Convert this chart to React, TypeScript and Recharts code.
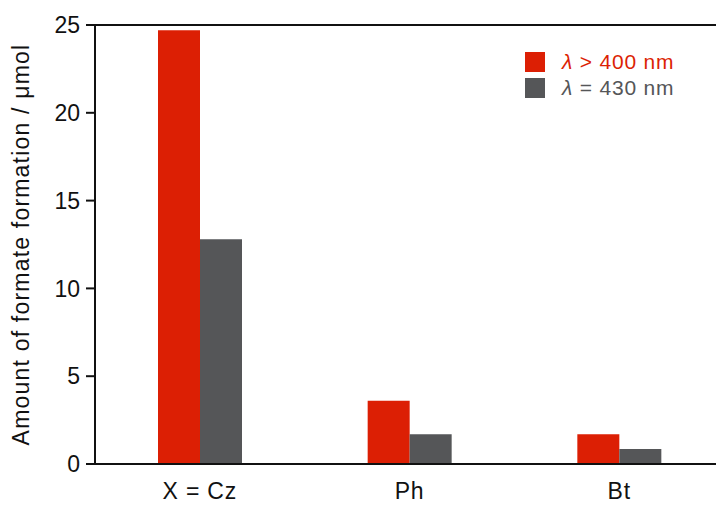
import React from 'react';
import { BarChart, Bar, XAxis, YAxis, ReferenceLine, Label } from 'recharts';

const categories = ['X = Cz', 'Ph', 'Bt'];
const visibleValues = [24.7, 3.6, 1.7];
const blueLedValues = [12.8, 1.7, 0.85];
const yTicks = [0, 5, 10, 15, 20, 25];

const RED = '#dc1f04';
const GREY = '#555658';
const FONT = '"Liberation Sans", Arial, Helvetica, sans-serif';

const data = categories.map((name, i) => ({
  name,
  vis: visibleValues[i],
  blue: blueLedValues[i],
}));

// legend drawn as an overlay so it doesn't eat plot space
const LegendBox: React.FC = () => (
  <div
    style={{
      position: 'absolute',
      left: 525,
      top: 49,
      fontFamily: FONT,
      fontSize: 21,
      letterSpacing: 0.8,
      lineHeight: '26px',
    }}
  >
    <div style={{ display: 'flex', alignItems: 'center', color: RED }}>
      <span style={{ width: 20, height: 20, background: RED, marginRight: 17 }} />
      <span>
        <i>λ</i> &gt; 400 nm
      </span>
    </div>
    <div style={{ display: 'flex', alignItems: 'center', color: GREY }}>
      <span style={{ width: 20, height: 20, background: GREY, marginRight: 17 }} />
      <span>
        <i>λ</i> = 430 nm
      </span>
    </div>
  </div>
);

const App: React.FC = () => {
  return (
    <div style={{ position: 'absolute', left: 0, top: 0, width: 716, height: 506, overflow: 'hidden', background: '#fff' }}>
      <BarChart
        width={740}
        height={506}
        data={data}
        margin={{ top: 25, right: 16, bottom: 0, left: 0 }}
        barGap={0}
        barSize={42}
        style={{ fontFamily: FONT }}
      >
        <ReferenceLine y={25} stroke="#111" strokeWidth={2} ifOverflow="extendDomain" />
        <XAxis
          dataKey="name"
          height={42}
          tickLine={false}
          tickSize={0}
          tickMargin={19}
          axisLine={{ stroke: '#111', strokeWidth: 2 }}
          tick={{ fill: '#111', fontSize: 23, letterSpacing: 0.8 }}
        />
        <YAxis
          width={95}
          domain={[0, 25]}
          ticks={yTicks}
          tickSize={9}
          tickMargin={6}
          axisLine={{ stroke: '#111', strokeWidth: 2 }}
          tickLine={{ stroke: '#111', strokeWidth: 2 }}
          tick={{ fill: '#111', fontSize: 23 }}
        >
          <Label
            value="Amount of formate formation / μmol"
            angle={-90}
            position="insideLeft"
            offset={0}
            style={{ textAnchor: 'middle', fill: '#111', fontSize: 23, letterSpacing: 1.2 }}
            dx={21}
          />
        </YAxis>
        <Bar dataKey="vis" fill={RED} isAnimationActive={false} />
        <Bar dataKey="blue" fill={GREY} isAnimationActive={false} />
      </BarChart>
      <LegendBox />
    </div>
  );
};

export default App;
